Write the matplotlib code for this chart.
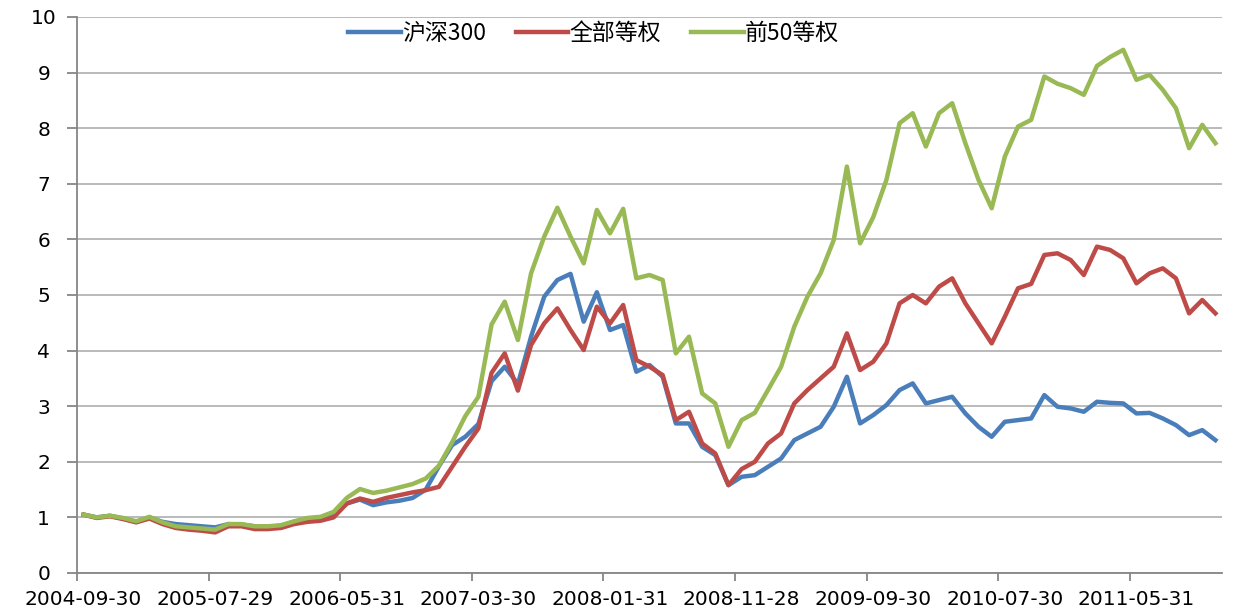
import numpy as np
import matplotlib
matplotlib.use('Agg')
import matplotlib.pyplot as plt

plt.rcParams['font.family'] = ['Noto Sans CJK SC', 'DejaVu Sans']

# monthly values, 2004-09-30 .. 2011-11
tick_labels = ['2004-09-30', '2005-07-29', '2006-05-31', '2007-03-30', '2008-01-31',
               '2008-11-28', '2009-09-30', '2010-07-30', '2011-05-31']

hs300 = [1.05, 1.00, 1.03, 0.98, 0.92, 1.00, 0.92, 0.88, 0.86, 0.84,
         0.82, 0.88, 0.87, 0.84, 0.83, 0.85, 0.92, 0.97, 0.99, 1.05,
         1.25, 1.32, 1.22, 1.27, 1.30, 1.35, 1.50, 1.92, 2.30, 2.45,
         2.68, 3.45, 3.71, 3.40, 4.25, 4.97, 5.27, 5.38, 4.52, 5.05,
         4.37, 4.46, 3.62, 3.74, 3.53, 2.69, 2.69, 2.27, 2.12, 1.58,
         1.73, 1.76, 1.91, 2.06, 2.39, 2.51, 2.63, 2.99, 3.53, 2.69,
         2.84, 3.02, 3.29, 3.41, 3.05, 3.11, 3.17, 2.87, 2.63, 2.45,
         2.72, 2.75, 2.78, 3.20, 2.99, 2.96, 2.90, 3.08, 3.06, 3.05,
         2.87, 2.88, 2.78, 2.66, 2.48, 2.57, 2.39]

eq_all = [1.05, 0.99, 1.02, 0.97, 0.91, 0.98, 0.88, 0.81, 0.78, 0.76,
          0.73, 0.84, 0.84, 0.79, 0.79, 0.81, 0.88, 0.92, 0.94, 1.00,
          1.25, 1.34, 1.28, 1.35, 1.40, 1.45, 1.49, 1.55, 1.91, 2.27,
          2.60, 3.60, 3.95, 3.28, 4.10, 4.49, 4.76, 4.37, 4.01, 4.79,
          4.49, 4.82, 3.83, 3.71, 3.56, 2.75, 2.90, 2.33, 2.15, 1.58,
          1.87, 2.00, 2.33, 2.51, 3.05, 3.29, 3.50, 3.71, 4.31, 3.65,
          3.80, 4.13, 4.85, 5.00, 4.85, 5.15, 5.30, 4.85, 4.49, 4.13,
          4.61, 5.12, 5.20, 5.72, 5.75, 5.63, 5.36, 5.87, 5.81, 5.66,
          5.21, 5.39, 5.48, 5.30, 4.67, 4.91, 4.67]

eq_top50 = [1.05, 1.00, 1.03, 0.99, 0.93, 1.01, 0.91, 0.84, 0.82, 0.80,
            0.78, 0.88, 0.88, 0.84, 0.84, 0.86, 0.93, 0.99, 1.01, 1.10,
            1.35, 1.51, 1.44, 1.48, 1.54, 1.60, 1.70, 1.93, 2.35, 2.82,
            3.17, 4.47, 4.88, 4.19, 5.39, 6.05, 6.57, 6.05, 5.57, 6.53,
            6.11, 6.55, 5.30, 5.36, 5.27, 3.95, 4.25, 3.23, 3.05, 2.27,
            2.75, 2.88, 3.29, 3.71, 4.43, 4.97, 5.39, 5.99, 7.31, 5.93,
            6.40, 7.07, 8.09, 8.27, 7.67, 8.27, 8.45, 7.73, 7.07, 6.56,
            7.49, 8.03, 8.15, 8.93, 8.80, 8.72, 8.60, 9.12, 9.28, 9.41,
            8.87, 8.96, 8.69, 8.36, 7.64, 8.06, 7.73]

names = ['沪深300', '全部等权', '前50等权']
colors = ['#4A7EBB', '#BE4B48', '#98B954']

W, H = 1236, 615
fig = plt.figure(figsize=(W / 100, H / 100), dpi=100)
ax = fig.add_axes([77 / W, 1 - 573 / H, (1222 - 77) / W, (573 - 17) / H])

x = np.arange(len(hs300))
for vals, name, c in zip([hs300, eq_all, eq_top50], names, colors):
    ax.plot(x, vals, color=c, lw=3.2, label=name, solid_joinstyle='round')

ax.set_xlim(-0.5, len(x) - 0.5)
ax.set_ylim(0, 10)
ax.set_yticks(range(11))
ax.grid(axis='y', color='#B4B4B4', lw=1.3)
ax.set_axisbelow(True)

for s in ['top', 'right']:
    ax.spines[s].set_visible(False)
for s in ['left', 'bottom']:
    ax.spines[s].set_color('#868686')
    ax.spines[s].set_linewidth(1.3)

# tick marks on category boundaries, labels on category centres
ax.set_xticks(np.arange(-0.5, len(x), 10))
ax.set_xticklabels([])
ax.set_xticks(np.arange(0, len(x), 10), minor=True)
ax.set_xticklabels(tick_labels, minor=True, family='DejaVu Sans', fontsize=14.5)
ax.tick_params(axis='x', which='major', length=6, width=1.3, color='#868686', direction='out')
ax.tick_params(axis='x', which='minor', length=0, pad=12)

ax.set_yticklabels([str(v) for v in range(11)], family='DejaVu Sans', fontsize=14.5)
ax.tick_params(axis='y', length=7, width=1.3, color='#868686')
for lab in ax.get_yticklabels():
    lab.set_horizontalalignment('center')
ax.yaxis.set_tick_params(pad=17)

ax.legend(loc='upper center', bbox_to_anchor=(0.451, 1.028), ncol=3, frameon=False,
          fontsize=16.5, handlelength=2.3, handletextpad=0.05, columnspacing=1.3)

fig.savefig('out.png', dpi=100, facecolor='white')
